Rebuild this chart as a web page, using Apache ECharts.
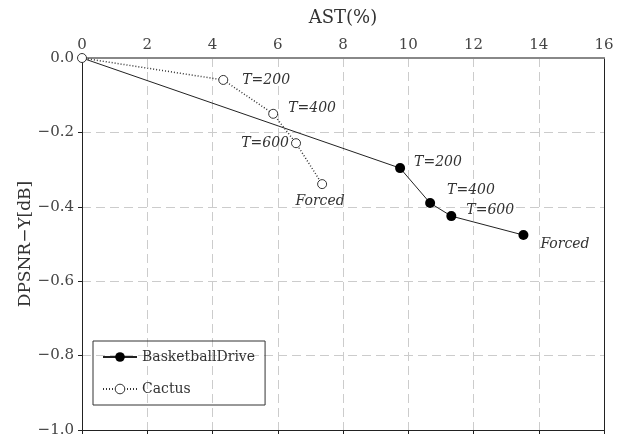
<!DOCTYPE html>
<html><head><meta charset="utf-8">
<script src="https://cdn.jsdelivr.net/npm/echarts@6/dist/echarts.min.js"></script>
<style>html,body{margin:0;padding:0;background:#fff}#c{width:626px;height:438px}</style>
</head><body><div id="c"></div>
<script>
const seriesNames = ['BasketballDrive', 'Cactus'];
const pointLabels = ['', 'T=200', 'T=400', 'T=600', 'Forced'];
const basketX = [0, 9.75, 10.67, 11.32, 13.53];
const basketY = [0, -0.296, -0.39, -0.425, -0.476];
const cactusX = [0, 4.33, 5.86, 6.56, 7.36];
const cactusY = [0, -0.059, -0.15, -0.229, -0.339];
const xTicks = [0, 2, 4, 6, 8, 10, 12, 14, 16];
const yTicks = [0, -0.2, -0.4, -0.6, -0.8, -1.0];

const FONT = 'DejaVu Serif';
const basketPos = [null, ['right', [4, -6]], ['right', [7, -13]], ['right', [5, -6]], ['right', [7, 9]]];
const cactusPos = [null, ['right', [9, 0]], ['right', [5, -5]], ['left', [3, 0]], ['bottom', [-2, 0]]];

function build(xs, ys, pos, hideFirst) {
  return xs.map((x, i) => {
    const item = { value: [x, ys[i]] };
    if (i === 0 && hideFirst) item.symbol = 'none';
    if (pointLabels[i]) {
      item.label = { show: true, formatter: pointLabels[i], position: pos[i][0], offset: pos[i][1],
        fontStyle: 'italic', fontFamily: FONT, fontSize: 14, color: '#333' };
    }
    return item;
  });
}

const chart = echarts.init(document.getElementById('c'));
chart.setOption({
  animation: false,
  grid: { left: 82, right: 22, top: 58, bottom: 8, outerBoundsMode: 'none', containLabel: false },
  legend: {
    orient: 'vertical', left: 93, top: 341, padding: [9, 10, 9, 9],
    borderColor: '#333', borderWidth: 1, itemWidth: 34, itemHeight: 12, itemGap: 18,
    textStyle: { fontFamily: FONT, fontSize: 14, color: '#333' },
    data: [seriesNames[0], { name: seriesNames[1], itemStyle: { borderWidth: 1 } }]
  },
  xAxis: [{
    type: 'value', position: 'top', min: 0, max: 16, interval: 2,
    name: 'AST(%)', nameLocation: 'middle', nameGap: 31, nameMoveOverlap: false,
    nameTextStyle: { fontFamily: FONT, fontSize: 18, color: '#333' },
    axisLine: { show: true, onZero: false, lineStyle: { color: '#888', width: 2 } },
    axisTick: { show: false },
    axisLabel: { fontFamily: FONT, fontSize: 15, color: '#444', margin: 5,
      formatter: v => xTicks.includes(v) ? String(v) : '' },
    splitLine: { show: true, lineStyle: { type: [9, 5], color: '#ccc' } }
  }, {
    type: 'value', position: 'bottom', min: 0, max: 16, interval: 2,
    axisLine: { show: true, onZero: false, lineStyle: { color: '#222' } },
    axisTick: { show: true, length: 4, lineStyle: { color: '#222' } },
    axisLabel: { show: false }, splitLine: { show: false }
  }],
  yAxis: [{
    type: 'value', min: -1.0, max: 0, interval: 0.2,
    name: 'DPSNR\u2212Y[dB]', nameLocation: 'middle', nameGap: 48, nameMoveOverlap: false,
    nameTextStyle: { fontFamily: FONT, fontSize: 17, color: '#333' },
    axisLine: { show: true, onZero: false, lineStyle: { color: '#222' } },
    axisTick: { show: true, length: 4, lineStyle: { color: '#222' } },
    axisLabel: { fontFamily: FONT, fontSize: 15, color: '#444', margin: 8,
      formatter: v => { const t = yTicks.find(k => Math.abs(k - v) < 1e-9); return t === undefined ? '' : t.toFixed(1).replace('-', '\u2212'); } },
    splitLine: { show: true, lineStyle: { type: [9, 5], color: '#ccc' } }
  }, {
    type: 'value', min: -1.0, max: 0, interval: 0.2, position: 'right',
    axisLine: { show: true, onZero: false, lineStyle: { color: '#222' } },
    axisTick: { show: false }, axisLabel: { show: false }, splitLine: { show: false }
  }],
  series: [{
    name: seriesNames[0], type: 'line', symbol: 'circle', symbolSize: 10,
    itemStyle: { color: '#000' }, lineStyle: { color: '#222', width: 1 },
    data: build(basketX, basketY, basketPos, true), z: 3
  }, {
    name: seriesNames[1], type: 'line', symbol: 'circle', symbolSize: 9,
    itemStyle: { color: '#fff', borderColor: '#333', borderWidth: 1 },
    lineStyle: { color: '#333', width: 1.5, type: [1, 2] },
    data: build(cactusX, cactusY, cactusPos, false), z: 4
  }]
});
</script></body></html>
